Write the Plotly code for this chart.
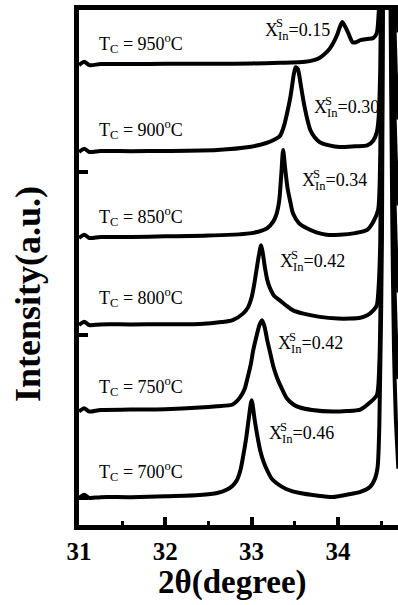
import plotly.graph_objects as go

# ---------------- data ----------------
temps = ["950", "900", "850", "800", "750", "700"]
x_in_values = ["0.15", "0.30", "0.34", "0.42", "0.42", "0.46"]
offsets = [2.656, 2.123, 1.595, 1.061, 0.53, 0.0]

tt_950 = [31.00, 31.06, 31.12, 31.25, 31.6, 32.0, 32.6, 33.0, 33.33, 33.62, 33.72, 33.79, 33.86,
          33.91, 33.96, 33.99, 34.02, 34.05, 34.085, 34.12, 34.17, 34.21, 34.26, 34.34, 34.41,
          34.45, 34.47, 34.49, 34.51, 34.53, 34.56, 34.59, 34.61, 34.63, 34.65, 34.67, 34.70]
int_950 = [0.0, 0.02, 0.0, 0.006, 0.006, 0.008, 0.008, 0.01, 0.014, 0.02, 0.03, 0.045, 0.075,
           0.104, 0.15, 0.184, 0.23, 0.264, 0.235, 0.196, 0.14, 0.14, 0.153, 0.16, 0.166,
           0.196, 0.3, 0.6, 1.6, 4.5, 9.0, 5.0, 3.0, 1.7, 0.9, 0.5, 0.2]

tt_900 = [31.00, 31.06, 31.12, 31.25, 31.6, 32.0, 32.6, 32.97, 33.17, 33.26, 33.33, 33.375, 33.42,
          33.45, 33.47, 33.49, 33.51, 33.535, 33.555, 33.57, 33.595, 33.62, 33.65, 33.68, 33.73,
          33.79, 33.9, 34.02, 34.2, 34.34, 34.41, 34.45, 34.47, 34.49, 34.51, 34.53, 34.56, 34.59,
          34.61, 34.63, 34.65, 34.67, 34.70]
int_900 = [0.0, 0.02, 0.0, 0.006, 0.005, 0.006, 0.012, 0.03, 0.055, 0.075, 0.10, 0.16, 0.26,
           0.34, 0.41, 0.48, 0.52, 0.51, 0.46, 0.41, 0.33, 0.26, 0.19, 0.135, 0.09,
           0.06, 0.04, 0.03, 0.035, 0.04, 0.07, 0.12, 0.2, 0.5, 1.6, 4.5, 9.0, 5.0,
           3.0, 1.7, 0.9, 0.5, 0.2]

tt_850 = [31.00, 31.06, 31.12, 31.25, 31.6, 32.0, 32.5, 33.0, 33.18, 33.25, 33.29, 33.32, 33.345,
          33.365, 33.39, 33.415, 33.445, 33.48, 33.55, 33.64, 33.75, 33.87, 34.02, 34.2, 34.34,
          34.41, 34.465, 34.49, 34.51, 34.53, 34.56, 34.59, 34.61, 34.63, 34.65, 34.67, 34.70]
int_850 = [0.0, 0.02, 0.0, 0.006, 0.006, 0.01, 0.015, 0.03, 0.06, 0.10, 0.15, 0.23, 0.40,
           0.54, 0.42, 0.31, 0.23, 0.15, 0.09, 0.06, 0.035, 0.02, 0.02, 0.03, 0.05,
           0.10, 0.17, 0.5, 1.6, 4.5, 9.0, 5.0, 3.0, 1.7, 0.9, 0.5, 0.2]

tt_800 = [31.00, 31.06, 31.12, 31.25, 31.6, 32.0, 32.4, 32.65, 32.78, 32.90, 32.96, 33.00, 33.03,
          33.06, 33.085, 33.11, 33.13, 33.155, 33.18, 33.21, 33.26, 33.33, 33.4, 33.48, 33.6,
          33.79, 34.0, 34.14, 34.26, 34.34, 34.41, 34.45, 34.47, 34.49, 34.51, 34.53, 34.56,
          34.59, 34.61, 34.63, 34.65, 34.67, 34.70]
int_800 = [0.0, 0.02, 0.0, 0.004, 0.004, 0.005, 0.006, 0.018, 0.03, 0.07, 0.11, 0.17, 0.25,
           0.35, 0.43, 0.49, 0.44, 0.35, 0.28, 0.23, 0.18, 0.15, 0.12, 0.09, 0.07,
           0.05, 0.04, 0.04, 0.045, 0.06, 0.09, 0.12, 0.22, 0.5, 1.6, 4.5, 9.0,
           5.0, 3.0, 1.7, 0.9, 0.5, 0.2]

tt_750 = [31.00, 31.06, 31.12, 31.25, 31.6, 32.0, 32.4, 32.6, 32.78, 32.87, 32.92, 32.95, 32.99,
          33.02, 33.06, 33.09, 33.12, 33.15, 33.18, 33.215, 33.25, 33.3, 33.36, 33.41, 33.48,
          33.56, 33.7, 33.94, 34.1, 34.26, 34.37, 34.45, 34.48, 34.51, 34.53, 34.56, 34.59,
          34.61, 34.63, 34.65, 34.67, 34.70]
int_750 = [0.0, 0.02, 0.0, 0.01, 0.012, 0.015, 0.025, 0.033, 0.043, 0.09, 0.14, 0.2, 0.29,
           0.38, 0.47, 0.53, 0.56, 0.52, 0.44, 0.36, 0.28, 0.2, 0.13, 0.08, 0.045,
           0.025, 0.01, 0.0, 0.003, 0.012, 0.055, 0.1, 0.3, 1.6, 4.5, 9.0, 5.0,
           3.0, 1.7, 0.9, 0.5, 0.2]

tt_700 = [31.00, 31.06, 31.12, 31.25, 31.6, 32.0, 32.4, 32.6, 32.71, 32.78, 32.83, 32.87, 32.90,
          32.935, 32.965, 33.00, 33.035, 33.07, 33.10, 33.14, 33.18, 33.23, 33.29, 33.4, 33.56,
          33.75, 33.94, 34.1, 34.26, 34.37, 34.43, 34.46, 34.48, 34.51, 34.53, 34.56, 34.59,
          34.61, 34.63, 34.65, 34.67, 34.70]
int_700 = [0.0, 0.02, 0.0, 0.005, 0.005, 0.01, 0.018, 0.03, 0.05, 0.075, 0.11, 0.17, 0.25,
           0.36, 0.48, 0.60, 0.48, 0.37, 0.29, 0.22, 0.17, 0.12, 0.09, 0.055, 0.03,
           0.015, 0.006, 0.02, 0.037, 0.067, 0.12, 0.19, 0.45, 1.6, 4.5, 9.0, 5.0,
           3.0, 1.7, 0.9, 0.5, 0.18]

x_ticks = [31, 32, 33, 34]
x_tick_labels = ["31", "32", "33", "34"]
x_minor_ticks = [31.5, 32.5, 33.5, 34.5]

# label anchor positions (data coordinates)
tc_label_x = 31.21
tc_label_y = [2.791, 2.258, 1.724, 1.227, 0.681, 0.160]
xin_label_x = [33.132, 33.700, 33.561, 33.306, 33.283, 33.178]
xin_label_y = [2.865, 2.387, 1.939, 1.442, 0.939, 0.387]

# ---------------- figure ----------------
curves = [(tt_950, int_950), (tt_900, int_900), (tt_850, int_850),
          (tt_800, int_800), (tt_750, int_750), (tt_700, int_700)]

fig = go.Figure()
for (xs, ys), off in zip(curves, offsets):
    fig.add_trace(go.Scatter(
        x=xs, y=[v + off for v in ys], mode="lines",
        line=dict(color="black", width=4, shape="spline", smoothing=0.7),
        showlegend=False, hoverinfo="skip"))

serif = "Liberation Serif, Times New Roman, serif"
ann = []
for t, yv in zip(temps, tc_label_y):
    ann.append(dict(x=tc_label_x, y=yv, xref="x", yref="y", xanchor="left", yanchor="middle",
                    text="T<sub>C</sub> = " + t + "<sup>o</sup>C", showarrow=False,
                    font=dict(family=serif, size=18, color="black")))
for v, xv, yv in zip(x_in_values, xin_label_x, xin_label_y):
    ann.append(dict(x=xv, y=yv, xref="x", yref="y", xanchor="left", yanchor="middle",
                    text="X<sub>In</sub>=" + v, showarrow=False,
                    font=dict(family=serif, size=18, color="black")))
    ann.append(dict(x=xv, y=yv, xref="x", yref="y", xanchor="left", yanchor="middle",
                    xshift=11, yshift=8, text="S", showarrow=False,
                    font=dict(family=serif, size=12.6, color="black")))

ann.append(dict(x=-0.16, y=0.4485, xref="paper", yref="paper", xanchor="center", yanchor="middle",
                text="Intensity(a.u.)", textangle=-90, showarrow=False,
                font=dict(family=serif, size=36, color="black", weight="bold")))
ann.append(dict(x=0.48, y=-0.111, xref="paper", yref="paper", xanchor="center", yanchor="middle",
                text="2θ(degree)", showarrow=False,
                font=dict(family=serif, size=33, color="black", weight="bold")))

fig.update_layout(
    width=398, height=605,
    margin=dict(l=79, r=0, t=10, b=80),
    plot_bgcolor="white", paper_bgcolor="white",
    showlegend=False, annotations=ann)

fig.update_xaxes(
    range=[31, 34.696], tickvals=x_ticks, ticktext=x_tick_labels,
    ticks="inside", ticklen=8, tickwidth=4, tickcolor="black",
    showline=True, linewidth=5, linecolor="black", mirror=True,
    showgrid=False, zeroline=False,
    tickfont=dict(family=serif, size=25, color="black", weight="bold"),
    minor=dict(tickvals=x_minor_ticks, ticks="inside", ticklen=4, tickwidth=3, tickcolor="black"))

fig.update_yaxes(
    range=[-0.166, 2.994], tickvals=[0, 1, 2],
    ticks="inside", ticklen=9, tickwidth=4, tickcolor="black", showticklabels=False,
    showline=True, linewidth=5, linecolor="black", mirror=False,
    showgrid=False, zeroline=False)

fig.write_html("out.html")
